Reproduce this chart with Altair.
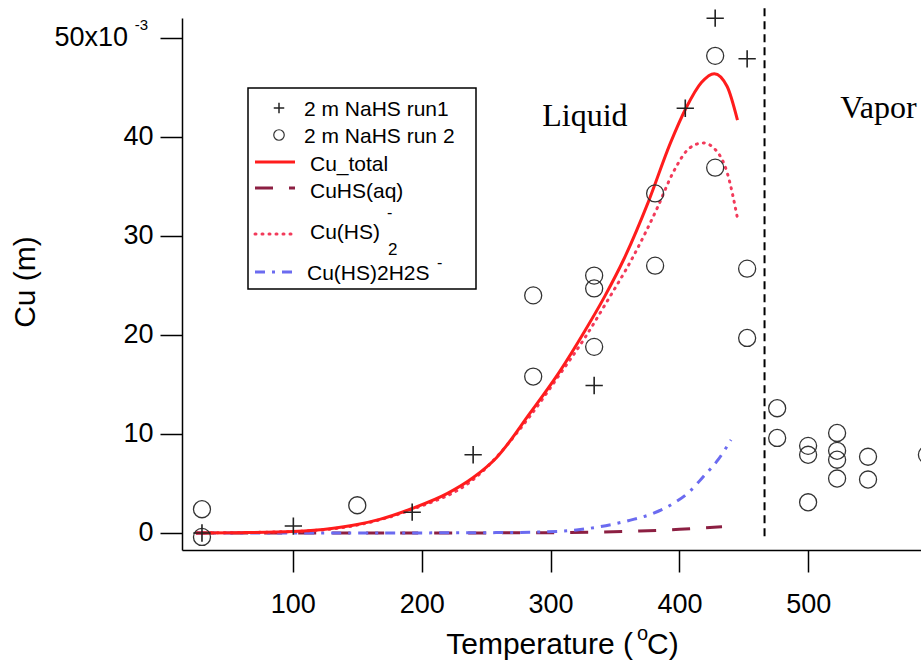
import altair as alt
import pandas as pd

# ---------------- data (Cu in units of 1e-3 mol/kg, T in degC) ----------------
run1_T = [29.5, 100.4, 192.6, 239.9, 333.8, 404.5, 427.7, 452.5]
run1_Cu = [0.0, 0.7, 2.1, 7.9, 14.9, 42.9, 52.0, 47.9]

run2_T = [29.5, 29.5, 150.0, 286.5, 286.5, 333.8, 333.8, 333.8, 381.1, 381.1,
          427.7, 427.7, 452.5, 452.5,
          475.8, 475.8, 499.8, 499.8, 499.8, 522.3, 522.3, 522.3, 522.3,
          546.3, 546.3, 592.0]
run2_Cu = [-0.4, 2.4, 2.8, 24.0, 15.8, 26.0, 24.7, 18.8, 34.3, 27.0,
           48.2, 36.9, 26.7, 19.7,
           12.6, 9.6, 8.8, 7.9, 3.1, 10.1, 8.3, 7.4, 5.5,
           7.7, 5.4, 7.9]

total_T = [25, 60, 100, 130, 150, 168, 193, 220, 240, 258, 284, 307, 327, 342,
           357, 376, 393, 405, 417, 427, 437, 445]
total_Cu = [0.0, 0.03, 0.15, 0.45, 0.85, 1.4, 2.5, 4.0, 5.6, 7.6, 12.1, 16.3, 20.5,
            23.9, 27.7, 33.5, 39.4, 42.9, 45.5, 46.4, 45.1, 41.7]

cuhs2_T = [25, 100, 150, 193, 240, 284, 307, 327, 342, 364, 383, 395, 408, 418.5,
           428, 437, 445]
cuhs2_Cu = [0.0, 0.15, 0.8, 2.4, 5.4, 11.8, 16.0, 19.8, 23.0, 27.9, 32.9, 36.4,
            38.9, 39.4, 38.7, 36.4, 31.8]

h2s_T = [25, 150, 250, 293, 320, 338.5, 362, 380, 395.4, 408, 418.6, 430, 440]
h2s_Cu = [0.0, 0.0, 0.03, 0.1, 0.3, 0.64, 1.3, 2.0, 3.0, 4.2, 5.7, 7.4, 9.4]

cuhsaq_T = [25, 200, 307, 340, 369, 400, 433]
cuhsaq_Cu = [0.0, 0.0, 0.03, 0.1, 0.2, 0.37, 0.64]

phase_T = [466]

x_ticks = [100, 200, 300, 400, 500]
y_ticks = [0, 10, 20, 30, 40, 50]

legend_labels = ["2 m NaHS run1", "2 m NaHS run 2", "Cu_total", "CuHS(aq)",
                 "Cu(HS)", "Cu(HS)2H2S"]

# ---------------- styling ----------------
FONT = "Liberation Sans"
RED = "#ff1c1c"
MAROON = "#8c1f42"
PINK = "#f23a5a"
BLUE = "#6b6bf0"
PLUS = "M-1,0L1,0M0,-1L0,1"

xs = alt.Scale(domain=[14.0, 587.4], nice=False, zero=False)
ys = alt.Scale(domain=[-1.72, 52.02], nice=False, zero=False)

x_axis = alt.Axis(values=x_ticks, title=None, grid=False, labelFont=FONT,
                  labelFontSize=27, labelColor="black", labelPadding=19,
                  tickSize=22, tickColor="black", tickWidth=1.5,
                  domainColor="black", domainWidth=1.5, labelFlush=False)
y_axis = alt.Axis(values=y_ticks, title=None, grid=False, labelFont=FONT,
                  labelFontSize=27, labelColor="black", labelPadding=7,
                  tickSize=22, tickColor="black", tickWidth=1.5,
                  domainColor="black", domainWidth=1.5,
                  labelExpr="datum.value == 50 ? '' : datum.label")

x_enc = alt.X("T:Q", scale=xs, axis=x_axis)
y_enc = alt.Y("Cu:Q", scale=ys, axis=y_axis)


def df(T, v):
    return pd.DataFrame({"T": T, "Cu": v})


def curve(T, v, color, **kw):
    return alt.Chart(df(T, v)).mark_line(color=color, interpolate="monotone",
                                         **kw).encode(x=x_enc, y=y_enc, order="T:Q")


layers = []

# phase boundary
layers.append(
    alt.Chart(pd.DataFrame({"T": phase_T})).mark_rule(
        color="black", strokeWidth=2, strokeDash=[8, 5]
    ).encode(x=x_enc, y=alt.datum(53.0), y2=alt.datum(-0.4))
)

# model curves
layers.append(curve(cuhsaq_T, cuhsaq_Cu, MAROON, strokeWidth=3, strokeDash=[18, 16]))
layers.append(curve(h2s_T, h2s_Cu, BLUE, strokeWidth=3, strokeDash=[10, 7, 3, 7]))
layers.append(curve(cuhs2_T, cuhs2_Cu, PINK, strokeWidth=3, strokeDash=[1, 6],
                    strokeCap="round"))
layers.append(curve(total_T, total_Cu, RED, strokeWidth=3))

# measurements
layers.append(
    alt.Chart(df(run2_T, run2_Cu)).mark_point(
        shape="circle", size=290, filled=False, color="#333", strokeWidth=1.3, opacity=1
    ).encode(x=x_enc, y=y_enc)
)
layers.append(
    alt.Chart(df(run1_T, run1_Cu)).mark_point(
        shape=PLUS, size=300, filled=False, color="#222", strokeWidth=1.6, opacity=1
    ).encode(x=x_enc, y=y_enc)
)

# region labels
for lab, t, c in [("Liquid", 293.5, 41.1), ("Vapor", 524.7, 41.9)]:
    layers.append(
        alt.Chart(pd.DataFrame({"label": [lab]})).mark_text(
            align="left", baseline="alphabetic", font="Liberation Serif",
            fontSize=32, color="black"
        ).encode(x=alt.datum(t), y=alt.datum(c), text="label:N")
    )

# top y tick label with exponent
layers.append(
    alt.Chart(pd.DataFrame({"label": ["50x10"]})).mark_text(
        align="right", baseline="middle", font=FONT, fontSize=27, color="black"
    ).encode(x=alt.value(-54), y=alt.datum(50), text="label:N")
)
layers.append(
    alt.Chart(pd.DataFrame({"label": ["-3"]})).mark_text(
        align="right", baseline="alphabetic", font=FONT, fontSize=15, color="black", dy=-8
    ).encode(x=alt.value(-34), y=alt.datum(50), text="label:N")
)


def vtext(label, x, y, size, align="left", baseline="alphabetic", angle=None, font=FONT):
    kw = dict(align=align, baseline=baseline, font=font, fontSize=size, color="black")
    if angle is not None:
        kw["angle"] = angle
    return alt.Chart(pd.DataFrame({"label": [label]})).mark_text(**kw).encode(
        x=alt.value(x), y=alt.value(y), text="label:N")


# axis titles
layers.append(vtext("Cu (m)", -147, 264, 30, align="center", angle=270))
layers.append(vtext("Temperature (", 451, 636, 30, align="right"))
layers.append(vtext("o", 455, 622, 20))
layers.append(vtext("C)", 465, 636, 30))

# legend box
layers.append(
    alt.Chart(pd.DataFrame({"k": [0]})).mark_rect(
        fill="white", stroke="black", strokeWidth=1.5
    ).encode(x=alt.value(66), x2=alt.value(294), y=alt.value(70), y2=alt.value(271))
)
# legend symbols
layers.append(
    alt.Chart(pd.DataFrame({"k": [0]})).mark_point(
        shape=PLUS, size=110, filled=False, color="#222", strokeWidth=1.5, opacity=1
    ).encode(x=alt.value(97), y=alt.value(90))
)
layers.append(
    alt.Chart(pd.DataFrame({"k": [0]})).mark_point(
        shape="circle", size=110, filled=False, color="#333", strokeWidth=1.2, opacity=1
    ).encode(x=alt.value(97), y=alt.value(117))
)


def lsample(y, color, **kw):
    return alt.Chart(pd.DataFrame({"k": [0]})).mark_rule(color=color, strokeWidth=3, **kw).encode(
        x=alt.value(73), x2=alt.value(113), y=alt.value(y))


layers.append(lsample(144, RED))
layers.append(lsample(170, MAROON, strokeDash=[18, 16]))
layers.append(lsample(216, PINK, strokeDash=[1, 6], strokeCap="round"))
layers.append(lsample(254, BLUE, strokeDash=[10, 7, 3, 7]))

# legend texts
layers.append(vtext(legend_labels[0], 122, 98, 21))
layers.append(vtext(legend_labels[1], 122, 125, 21))
layers.append(vtext(legend_labels[2], 128, 153, 21))
layers.append(vtext(legend_labels[3], 128, 180, 21))
layers.append(vtext(legend_labels[4], 128, 221, 21))
layers.append(vtext("-", 205, 200, 16))
layers.append(vtext("2", 206, 237, 17))
layers.append(vtext(legend_labels[5], 125, 262, 21))
layers.append(vtext("-", 255, 250, 16))

chart = alt.layer(*layers).properties(
    width=739,
    height=532,
    autosize=alt.AutoSizeParams(type="none"),
    padding={"left": 182, "top": 18, "right": 0, "bottom": 110},
    background="white",
).configure_view(stroke=None)

chart.save("out.html", embed_options={"renderer": "svg", "actions": False})
